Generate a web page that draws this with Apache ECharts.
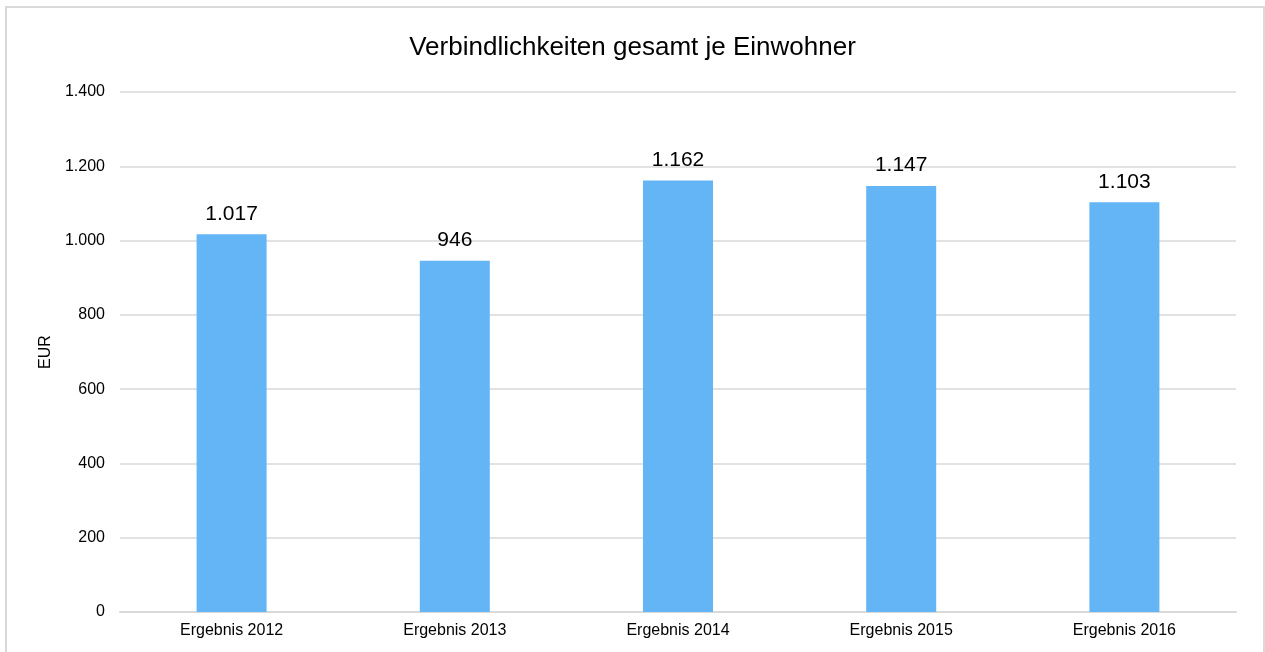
<!DOCTYPE html>
<html><head><meta charset="utf-8">
<script src="https://cdn.jsdelivr.net/npm/echarts@6/dist/echarts.min.js"></script>
<style>
html,body{margin:0;padding:0;background:#fff;overflow:hidden;}
#frame{position:absolute;left:5px;top:6px;width:1260px;height:660px;border:2px solid #d9d9d9;box-sizing:border-box;}
#chart{position:absolute;left:0;top:0;width:1265px;height:652px;}
</style></head>
<body>
<div id="frame"></div>
<div id="chart"></div>
<script>
const titleText = 'Verbindlichkeiten gesamt je Einwohner';
const categories = ['Ergebnis 2012','Ergebnis 2013','Ergebnis 2014','Ergebnis 2015','Ergebnis 2016'];
const values = [1017, 946, 1162, 1147, 1103];
const yAxisName = 'EUR';

function fmt(v){
  return String(Math.round(v)).replace(/\B(?=(\d{3})+(?!\d))/g, '.');
}
const chart = echarts.init(document.getElementById('chart'), null, {renderer:'canvas'});
chart.setOption({
  animation:false,
  textStyle:{fontFamily:'Liberation Sans, Arial, sans-serif'},
  title:{text:titleText,left:'center',top:30,textStyle:{fontSize:26,fontWeight:'normal',color:'#000',fontFamily:'Liberation Sans, Arial, sans-serif'}},
  grid:{left:120,right:29,top:92,bottom:40,containLabel:false},
  xAxis:{type:'category',data:categories,
    axisLine:{lineStyle:{color:'#d9d9d9',width:2}},
    axisTick:{show:false},
    axisLabel:{color:'#000',fontSize:16,margin:11}},
  yAxis:{type:'value',min:0,max:1400,interval:200,
    name:yAxisName,nameLocation:'middle',nameGap:66,nameRotate:90,
    nameTextStyle:{color:'#000',fontSize:16},
    axisLine:{show:false},axisTick:{show:false},
    splitLine:{lineStyle:{color:'#d9d9d9',width:1.5}},
    axisLabel:{color:'#000',fontSize:16,margin:15,formatter:fmt}},
  series:[{type:'bar',data:values,barWidth:70,
    itemStyle:{color:'#64b5f6'},
    label:{show:true,position:'top',distance:10,color:'#000',fontSize:21,formatter:p=>fmt(p.value)}}]
});
</script>
</body></html>
